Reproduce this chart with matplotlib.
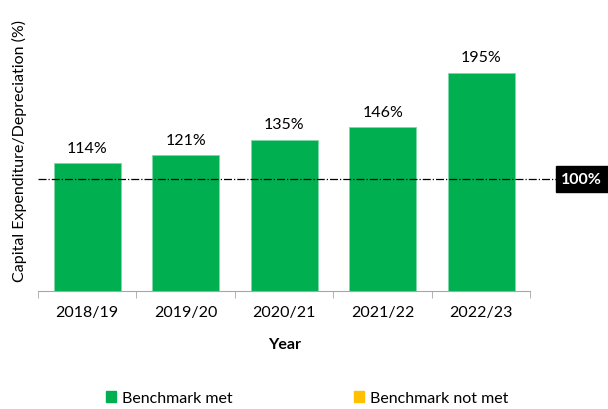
import matplotlib.pyplot as plt
import matplotlib.transforms as mtransforms
from matplotlib.patches import Patch

plt.rcParams['font.family'] = ['Lato', 'DejaVu Sans']

years = ["2018/19", "2019/20", "2020/21", "2021/22", "2022/23"]
ratio = [114, 121, 135, 146, 195]
benchmark = 100

green = "#00B050"
yellow = "#FFC000"

fig = plt.figure(figsize=(6.08, 4.10), dpi=100)
ax = fig.add_axes([0.0625, 0.288, 0.81, 0.688])

x = range(len(years))
bars = ax.bar(x, ratio, width=0.68, color=green, edgecolor="#7fd8a7", linewidth=0.6)

for xi, v in zip(x, ratio):
    ax.annotate(f"{v}%", (xi, v), xytext=(0, 6), textcoords="offset points",
                ha="center", va="bottom", fontsize=11.5)

# benchmark line runs a little past the axes
ax.plot([-0.5, 4.76], [benchmark, benchmark], color="black", ls="-.", lw=0.9,
        clip_on=False)
trans = mtransforms.blended_transform_factory(fig.transFigure, ax.transData)
ax.text(0.957, benchmark, f"{benchmark}%", transform=trans, ha="center", va="center",
        color="white", fontweight="bold", fontsize=11.5,
        bbox=dict(boxstyle="square,pad=0.35", fc="black", ec="black"))

ax.set_xlim(-0.5, 4.5)
ax.set_ylim(0, 252)
ax.set_xticks(list(x))
ax.set_xticklabels(years, fontsize=11.5)
ax.set_xticks([i - 0.5 for i in range(len(years) + 1)], minor=True)
ax.tick_params(axis="x", which="major", length=0, pad=10)
ax.tick_params(axis="x", which="minor", length=5, color="#a6a6a6", direction="out")
ax.set_yticks([])
for s in ["top", "right", "left"]:
    ax.spines[s].set_visible(False)
ax.spines["bottom"].set_color("#a6a6a6")

ax.set_xlabel("Year", fontsize=11.5, fontweight="bold", labelpad=13)
ax.set_ylabel("Capital Expenditure/Depreciation (%)", fontsize=11.5, labelpad=8)

handles = [Patch(color=green, label="Benchmark met"),
           Patch(color=yellow, label="Benchmark not met")]
fig.legend(handles=handles, loc="center", bbox_to_anchor=(0.505, 0.027), ncol=2,
           frameon=False, fontsize=11.5, handlelength=0.65, handleheight=0.65,
           handletextpad=0.35, columnspacing=7.6)

fig.savefig("out.png", dpi=100)
